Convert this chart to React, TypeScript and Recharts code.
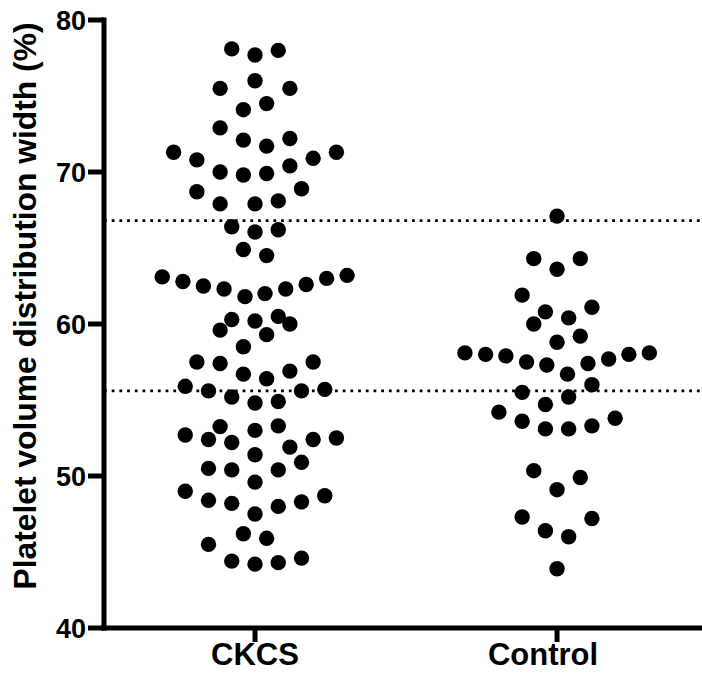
import { ScatterChart, Scatter, XAxis, YAxis, ReferenceLine, Label } from "recharts";

const categories = ["CKCS", "Control"];
const categoryPos = [1, 3];
const yTicks = [40, 50, 60, 70, 80];
const refLines = [66.8, 55.6];

// values, with each dot's sideways spread (in dot steps)
const ckcsValues = [
  78.1, 77.7, 78.0, 76.0, 75.5, 75.5, 74.5, 74.1, 72.9, 72.1, 72.2, 71.7, 71.3, 71.3,
  70.8, 70.9, 70.0, 69.8, 69.9, 70.4, 68.7, 68.9, 67.9, 67.9, 68.1,
  66.4, 66.05, 66.2, 64.9, 64.5, 63.1, 62.8, 62.5, 62.3, 61.8, 62.0, 62.3, 62.6, 63.0, 63.2,
  60.3, 60.2, 60.5, 60.0, 59.6, 59.3, 58.5, 57.5, 57.4, 57.5, 56.7, 56.9, 56.4,
  55.9, 55.6, 55.6, 55.7, 55.2, 54.8, 54.9,
  53.25, 53.3, 53.0, 52.7, 52.4, 52.2, 52.4, 52.5, 51.9, 51.4, 50.9, 50.5, 50.4, 50.4,
  49.6, 49.0, 48.4, 48.2, 48.7, 48.3, 48.0, 47.5, 46.2, 45.9, 45.5, 44.4, 44.2, 44.3, 44.6
];
const ckcsSpread = [
  -1, 0, 1, 0, -1.5, 1.5, 0.5, -0.5, -1.5, -0.5, 1.5, 0.5, -3.5, 3.5,
  -2.5, 2.5, -1.5, -0.5, 0.5, 1.5, -2.5, 2, -1.5, 0, 1,
  -1, 0, 1, -0.5, 0.5, -3.99, -3.1, -2.22, -1.33, -0.43, 0.43, 1.32, 2.2, 3.08, 3.96,
  -1, 0, 1, 1.5, -1.5, 0.5, -0.5, -2.5, -1.5, 2.5, -0.5, 1.5, 0.5,
  -3, -2, 2, 3, -1, 0, 1,
  -1.5, 1, 0, -3, -2, -1, 2.5, 3.5, 1.5, 0, 2, -2, -1, 1,
  0, -3, -2, -1, 3, 2, 1, 0, -0.5, 0.5, -2, -1, 0, 1, 2
];

const controlValues = [
  67.1, 64.3, 64.3, 63.6, 61.9, 61.1, 60.8, 60.4, 60.0, 59.2, 58.8,
  58.1, 58.0, 57.9, 57.5, 57.3, 56.7, 57.4, 57.7, 58.0, 58.1,
  56.0, 55.5, 55.2, 54.7, 54.2, 53.6, 53.1, 53.1, 53.3, 53.8,
  50.35, 49.9, 49.1, 47.3, 47.2, 46.4, 46.0, 43.9
];
const controlSpread = [
  0, -1, 1, 0, -1.5, 1.5, -0.5, 0.5, -1, 1, 0,
  -3.96, -3.07, -2.2, -1.31, -0.44, 0.45, 1.33, 2.22, 3.09, 3.97,
  1.5, -1.5, 0.5, -0.5, -2.5, -1.5, -0.5, 0.5, 1.5, 2.5,
  -1, 1, 0, -1.5, 1.5, -0.5, 0.5, 0
];

const STEP = 0.154;

const toPoints = (vals: number[], spread: number[], center: number) =>
  vals.map((y, i) => ({ x: center + spread[i] * STEP, y }));

const ckcsData = toPoints(ckcsValues, ckcsSpread, categoryPos[0]);
const controlData = toPoints(controlValues, controlSpread, categoryPos[1]);

const font = "'Liberation Sans', Arial, sans-serif";

const BlackDot = (p: any) => <circle cx={p.cx} cy={p.cy} r={7.7} fill="#000" />;

// the Control label sits a little left of its tick in the original
const CategoryTick = ({ x, y, payload }: any) => {
  const idx = categoryPos.indexOf(payload.value);
  const nudge = idx === 1 ? -14 : 0;
  return (
    <text
      x={x + nudge}
      y={y + 23}
      textAnchor="middle"
      fontFamily={font}
      fontWeight={700}
      fontSize={31}
      fill="#000"
    >
      {categories[idx] ?? ""}
    </text>
  );
};

const AxisTitle = () => (
  <text
    x={25}
    y={306}
    transform="rotate(-90 25 306)"
    textAnchor="middle"
    dominantBaseline="central"
    fontFamily={font}
    fontWeight={700}
    fontSize={31.8}
    fill="#000"
  >
    Platelet volume distribution width (%)
  </text>
);

export default function App() {
  return (
    <div>
      <style>{"body{margin:0;background:#fff}"}</style>
      <ScatterChart width={702} height={680} margin={{ top: 20, right: 0, bottom: 0, left: 0 }}>
        <XAxis
          type="number"
          dataKey="x"
          domain={[0, 3.96]}
          ticks={categoryPos}
          interval={0}
          height={52}
          axisLine={{ stroke: "#000", strokeWidth: 5, strokeLinecap: "square" }}
          tickLine={{ stroke: "#000", strokeWidth: 5 }}
          tickSize={14}
          tickMargin={0}
          tick={<CategoryTick />}
        />
        <YAxis
          type="number"
          dataKey="y"
          domain={[40, 80]}
          ticks={yTicks}
          interval={0}
          width={104}
          axisLine={{ stroke: "#000", strokeWidth: 5, strokeLinecap: "square" }}
          tickLine={{ stroke: "#000", strokeWidth: 5 }}
          tickSize={16}
          tickMargin={2}
          tick={{ fill: "#000", fontSize: 27, fontWeight: 700, fontFamily: font }}
        >
          <Label content={<AxisTitle />} />
        </YAxis>
        {refLines.map((v) => (
          <ReferenceLine
            key={v}
            y={v}
            stroke="#000"
            strokeWidth={2.8}
            strokeDasharray="2.8 4.9"
          />
        ))}
        <Scatter data={ckcsData} fill="#000" shape={BlackDot} isAnimationActive={false} />
        <Scatter data={controlData} fill="#000" shape={BlackDot} isAnimationActive={false} />
      </ScatterChart>
    </div>
  );
}
